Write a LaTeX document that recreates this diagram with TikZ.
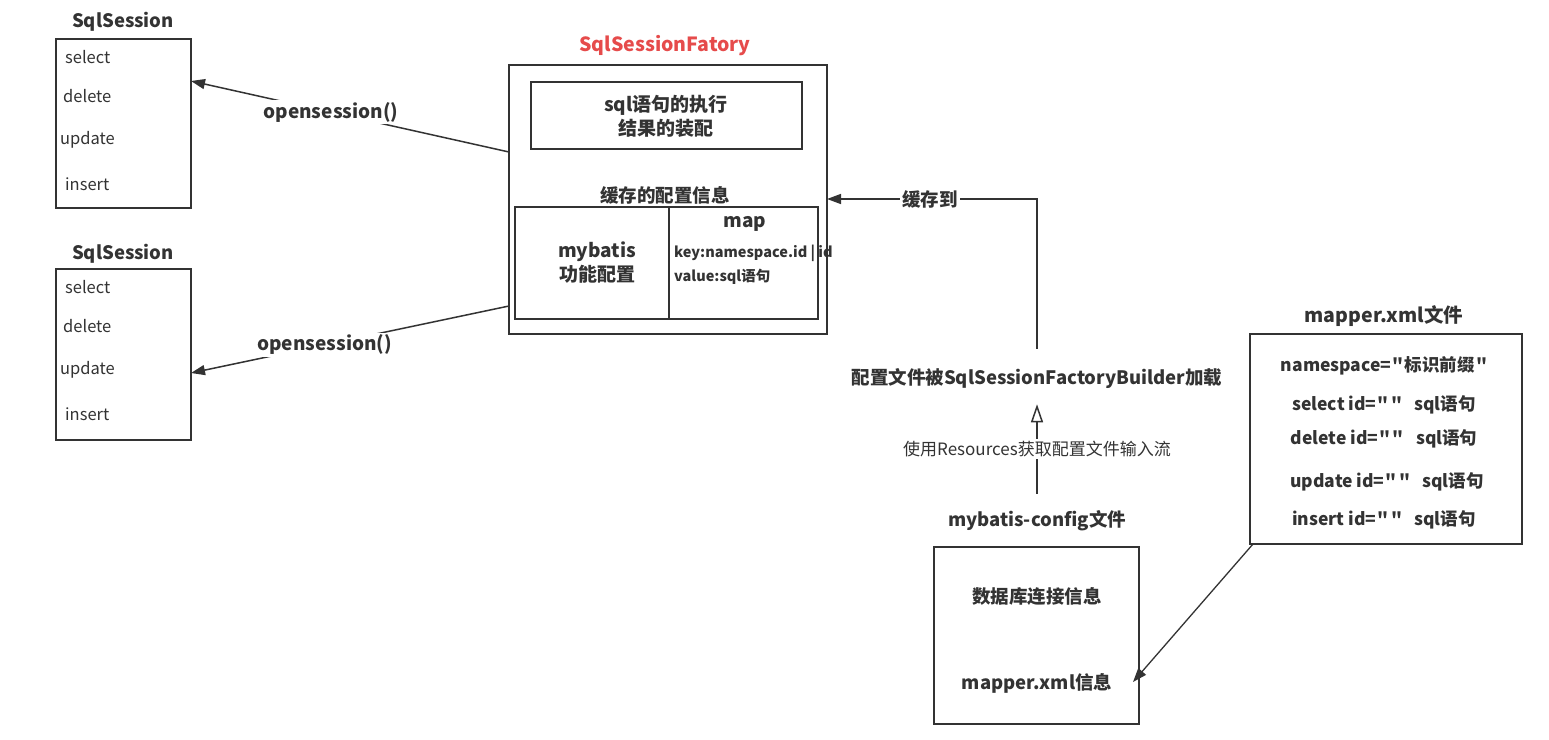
\documentclass[tikz,border=0pt]{standalone}
\usepackage{fontspec}
\setmainfont{Noto Sans CJK SC}[Ligatures=TeXOff]
\usetikzlibrary{arrows.meta,calc}
\definecolor{ln}{HTML}{333333}
\definecolor{rd}{HTML}{E64B4B}
\newcommand{\fsz}[2]{\fontsize{#1}{#2}\selectfont}
\newcommand{\dq}{\hspace{1.2pt}"\hspace{1.2pt}}
\tikzset{
  box/.style={draw=ln, line width=1.6pt, inner sep=0pt, outer sep=0pt, anchor=north west},
  lbl/.style={text=ln, font=\fsz{18.5}{22}\bfseries, inner sep=0pt, align=center},
  mline/.style={text=ln, font=\fsz{17.5}{21}\bfseries, inner sep=0pt},
  item/.style={text=ln, font=\fsz{16.5}{19}, inner sep=0pt, anchor=west},
  small/.style={text=ln, font=\fsz{14.5}{17}\bfseries, inner sep=0pt, anchor=west},
  arr/.style={draw=ln, line width=1.5pt, -{Triangle[length=14pt,width=10pt]}},
  openarr/.style={draw=ln, line width=1.5pt, -{Triangle[open,length=18pt,width=12pt]}},
  onlbl/.style={fill=white, inner sep=2pt}
}
\begin{document}
\begin{tikzpicture}[x=1pt,y=-1pt]
\useasboundingbox[fill=white] (0,0) rectangle (1549,739);

% SqlSession 1
\node[lbl] (t1) at (123,22) {SqlSession};
\node[box, minimum width=135pt, minimum height=169pt] (s1) at (56,39) {};
\node[item] (s1a) at (65,57) {select};
\node[item] (s1b) at (63,96) {delete};
\node[item] (s1c) at (60,140) {update};
\node[item] (s1d) at (65,184) {insert};

% SqlSession 2
\node[lbl] (t2) at (123,254) {SqlSession};
\node[box, minimum width=135pt, minimum height=171pt] (s2) at (56,269) {};
\node[item] (s2a) at (65,287) {select};
\node[item] (s2b) at (63,326) {delete};
\node[item] (s2c) at (60,370) {update};
\node[item] (s2d) at (65,414) {insert};

% Factory
\node[lbl, text=rd, font=\fsz{19.5}{23}\bfseries] (ft) at (665,46) {SqlSessionFatory};
\node[box, minimum width=318pt, minimum height=269pt] (f) at (509,65) {};
\node[box, minimum width=271pt, minimum height=67pt] (exec) at (531,82) {};
\node[lbl, font=\fsz{19}{24}\bfseries] (exect) at (666,116) {sql语句的执行\\结果的装配};
\node[lbl] (cache) at (665,195) {缓存的配置信息};
\node[box, minimum width=154pt, minimum height=112pt] (mb) at (515,207) {};
\node[box, minimum width=149pt, minimum height=112pt] (mp) at (669,207) {};
\node[lbl, font=\fsz{19}{24}\bfseries] (mbt) at (597,263) {mybatis\\功能配置};
\node[lbl, font=\fsz{19}{22}\bfseries] (mpt) at (745,224) {map};
\node[small] (k) at (674,253) {key:namespace.id | id};
\node[small] (v) at (674,277) {value:sql语句};

% opensession arrows
\draw[arr] ([yshift=-87pt]f.north west) -- node[lbl, onlbl, font=\fsz{19}{22}\bfseries, pos=0.56] {opensession()} ([yshift=-42pt]s1.north east);
\draw[arr] ([yshift=-241pt]f.north west) -- node[lbl, onlbl, font=\fsz{19}{22}\bfseries, pos=0.58] {opensession()} ([yshift=-104pt]s2.north east);

% builder
\node[lbl] (load) at (1037,378) {配置文件被SqlSessionFactoryBuilder加载};
\draw[arr] ([yshift=19pt]load.north) |- node[lbl, onlbl, pos=0.755] {缓存到} ([yshift=-134pt]f.north east);

\node[lbl] (cfgt) at (1037,521) {mybatis-config文件};
\draw[openarr] ([yshift=17pt]cfgt.north) -- node[onlbl, text=ln, font=\fsz{17}{20}] {使用Resources获取配置文件输入流} ([yshift=-16pt]load.south);

\node[box, minimum width=205pt, minimum height=177pt] (c) at (934,547) {};
\node[lbl] (db) at (1037,596) {数据库连接信息};
\node[lbl] (cmx) at (1037,683) {mapper.xml信息};

% mapper.xml
\node[lbl, font=\fsz{19.5}{23}\bfseries] (mt) at (1384,316) {mapper.xml文件};
\node[box, minimum width=272pt, minimum height=210pt] (m) at (1250,334) {};
\node[mline] (m1) at (1384,366) {namespace=\dq 标识前缀\dq};
\node[mline] (m2) at (1384,405) {select id=\dq\dq\hspace{11pt}sql语句};
\node[mline] (m3) at (1384,439) {delete id=\dq\dq\hspace{11pt}sql语句};
\node[mline] (m4) at (1387,482) {update id=\dq\dq\hspace{11pt}sql语句};
\node[mline] (m5) at (1384,520) {insert id=\dq\dq\hspace{11pt}sql语句};

\draw[arr, line width=1.3pt] ([xshift=3pt]m.south west) -- ([xshift=-6pt,yshift=-46.5pt]c.east);
\end{tikzpicture}
\end{document}
